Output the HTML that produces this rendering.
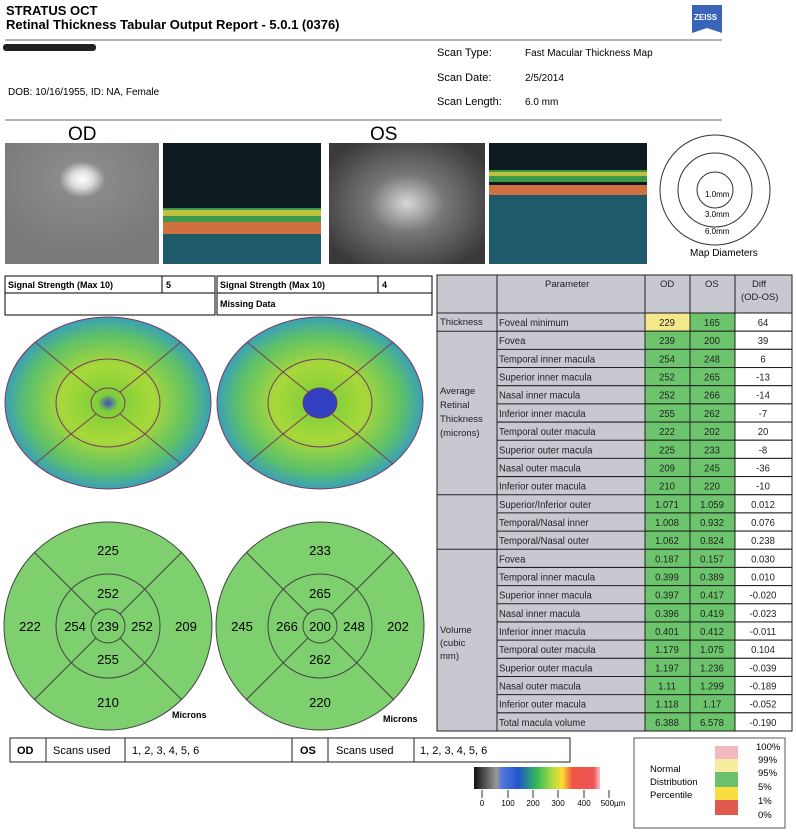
<!DOCTYPE html>
<html><head><meta charset="utf-8"><style>
body{margin:0;background:#fff;}
svg{display:block;font-family:"Liberation Sans",sans-serif;}
</style></head><body>
<svg width="796" height="834" viewBox="0 0 796 834">
<defs>
<radialGradient id="odf" cx="0.5" cy="0.3" r="0.6"><stop offset="0" stop-color="#fff"/><stop offset="0.12" stop-color="#ddd"/><stop offset="0.25" stop-color="#8a8a8a"/><stop offset="1" stop-color="#7a7a7a"/></radialGradient>
<radialGradient id="osf" cx="0.5" cy="0.5" r="0.6"><stop offset="0" stop-color="#d8d8d8"/><stop offset="0.4" stop-color="#777"/><stop offset="1" stop-color="#3a3a3a"/></radialGradient>
<radialGradient id="m1" cx="0.5" cy="0.5" r="0.5"><stop offset="0" stop-color="#3a4fc0"/><stop offset="0.1" stop-color="#7fcf3a"/><stop offset="0.45" stop-color="#a8d83a"/><stop offset="0.8" stop-color="#5cc06a"/><stop offset="1" stop-color="#3aa0b8"/></radialGradient>
<linearGradient id="cb" x1="0" x2="1"><stop offset="0" stop-color="#111"/><stop offset="0.18" stop-color="#999"/><stop offset="0.22" stop-color="#5577dd"/><stop offset="0.35" stop-color="#2255cc"/><stop offset="0.5" stop-color="#33bb55"/><stop offset="0.62" stop-color="#aadd44"/><stop offset="0.7" stop-color="#ffdd33"/><stop offset="0.78" stop-color="#ee5544"/><stop offset="0.95" stop-color="#ee5555"/><stop offset="1" stop-color="#f8c0c0"/></linearGradient>
</defs>
<text x="6" y="15" font-size="13" font-weight="bold">STRATUS OCT</text>
<text x="6" y="29" font-size="13" font-weight="bold">Retinal Thickness Tabular Output Report - 5.0.1 (0376)</text>
<path d="M692 5h30v28l-15-5-15 5z" fill="#3a64b8"/><text x="694" y="20" font-size="8" fill="#fff" font-weight="bold">ZEISS</text>
<line x1="5" y1="40" x2="722" y2="40" stroke="#666"/>
<rect x="3" y="44" width="93" height="7" rx="3" fill="#222"/>
<text x="437" y="56" font-size="11">Scan Type:</text><text x="525" y="56" font-size="10">Fast Macular Thickness Map</text>
<text x="437" y="81" font-size="11">Scan Date:</text><text x="525" y="81" font-size="10">2/5/2014</text>
<text x="437" y="105" font-size="11">Scan Length:</text><text x="525" y="105" font-size="10">6.0 mm</text>
<text x="8" y="95" font-size="10">DOB: 10/16/1955, ID: NA, Female</text>
<line x1="5" y1="120" x2="722" y2="120" stroke="#666"/>
<text x="68" y="140" font-size="19">OD</text><text x="370" y="140" font-size="19">OS</text>
<rect x="5" y="143" width="154" height="121" fill="url(#odf)"/>
<rect x="163" y="143" width="158" height="121" fill="#0d1a20"/>
<rect x="163" y="208" width="158" height="14" fill="#3b9a4a"/><rect x="163" y="210" width="158" height="6" fill="#c0c040"/>
<rect x="163" y="222" width="158" height="12" fill="#d07040"/><rect x="163" y="234" width="158" height="30" fill="#1e5a6a"/>
<rect x="329" y="143" width="156" height="121" fill="url(#osf)"/>
<rect x="489" y="143" width="158" height="121" fill="#0d1a20"/>
<rect x="489" y="170" width="158" height="12" fill="#3b9a4a"/><rect x="489" y="172" width="158" height="4" fill="#c0c040"/>
<rect x="489" y="185" width="158" height="10" fill="#d07040"/><rect x="489" y="195" width="158" height="69" fill="#1e5a6a"/>
<g fill="none" stroke="#333"><circle cx="715" cy="190" r="55"/><circle cx="715" cy="190" r="37"/><circle cx="715" cy="190" r="18"/></g>
<text x="705" y="197" font-size="8">1.0mm</text><text x="705" y="217" font-size="8">3.0mm</text><text x="705" y="234" font-size="8">6.0mm</text>
<text x="690" y="256" font-size="10">Map Diameters</text>
<g stroke="#000" fill="none">
<rect x="5" y="276" width="157" height="17"/><rect x="162" y="276" width="53" height="17"/><rect x="5" y="293" width="210" height="22"/>
<rect x="217" y="276" width="161" height="17"/><rect x="378" y="276" width="54" height="17"/><rect x="217" y="293" width="215" height="22"/></g>
<g font-size="9" font-weight="bold"><text x="8" y="288">Signal Strength (Max 10)</text><text x="166" y="288">5</text>
<text x="220" y="288">Signal Strength (Max 10)</text><text x="382" y="288">4</text><text x="220" y="307">Missing Data</text></g>
<g stroke="#7a3a5a">
<ellipse cx="108" cy="403" rx="103" ry="86" fill="url(#m1)"/>
<ellipse cx="320" cy="403" rx="103" ry="86" fill="url(#m1)"/>
</g>
<g fill="none" stroke="#7a3a5a">
<ellipse cx="108" cy="403" rx="52" ry="44"/><ellipse cx="108" cy="403" rx="17" ry="15"/>
<ellipse cx="320" cy="403" rx="52" ry="44"/><ellipse cx="320" cy="403" rx="17" ry="15" fill="#3040c0"/>
<path d="M96 392L71 372M120 392L145 372M96 414L71 434M120 414L145 434M308 392L283 372M332 392L357 372M308 414L283 434M332 414L357 434"/>
<path d="M71 372L35 342M145 372L181 342M71 434L35 464M145 434L181 464M283 372L247 342M357 372L393 342M283 434L247 464M357 434L393 464"/>
</g>
<g stroke="#444" fill="#7ecf6e">
<circle cx="108" cy="626" r="104"/><circle cx="320" cy="626" r="104"/></g>
<g stroke="#444" fill="none">
<circle cx="108" cy="626" r="52"/><circle cx="108" cy="626" r="17"/><circle cx="320" cy="626" r="52"/><circle cx="320" cy="626" r="17"/>
<path d="M96 614L71 589M120 614L145 589M96 638L71 663M120 638L145 663M71 589L34 552M145 589L182 552M71 663L34 700M145 663L182 700"/>
<path d="M308 614L283 589M332 614L357 589M308 638L283 663M332 638L357 663M283 589L246 552M357 589L394 552M283 663L246 700M357 663L394 700"/>
</g>
<g font-size="13" text-anchor="middle">
<text x="108" y="555">225</text><text x="108" y="598">252</text><text x="75" y="631">254</text><text x="108" y="631">239</text><text x="142" y="631">252</text><text x="108" y="664">255</text><text x="30" y="631">222</text><text x="186" y="631">209</text><text x="108" y="707">210</text>
<text x="320" y="555">233</text><text x="320" y="598">265</text><text x="287" y="631">266</text><text x="320" y="631">200</text><text x="354" y="631">248</text><text x="320" y="664">262</text><text x="242" y="631">245</text><text x="398" y="631">202</text><text x="320" y="707">220</text>
</g>
<text x="172" y="718" font-size="9" font-weight="bold">Microns</text><text x="383" y="722" font-size="9" font-weight="bold">Microns</text>
<rect x="437" y="275" width="355" height="456" fill="#c8c8d0" stroke="#222"/>
<g transform="translate(0,313) scale(1,1.04448) translate(0,-313)">
<g font-size="9.5" fill="#222">
<g transform="translate(0,313)"><rect x="645" width="45" height="17.4" fill="#f4e98a" stroke="#222"/><rect x="690" width="45" height="17.4" fill="#6cc56c" stroke="#222"/><rect x="735" width="57" height="17.4" fill="#fff" stroke="#222"/><line x1="497" y1="17.4" x2="645" y2="17.4" stroke="#222"/><text x="499" y="12.5">Foveal minimum</text><text x="667" y="12.5" text-anchor="middle">229</text><text x="712" y="12.5" text-anchor="middle">165</text><text x="763" y="12.5" text-anchor="middle">64</text></g>
<g transform="translate(0,330.4)"><rect x="645" width="45" height="17.4" fill="#6cc56c" stroke="#222"/><rect x="690" width="45" height="17.4" fill="#6cc56c" stroke="#222"/><rect x="735" width="57" height="17.4" fill="#fff" stroke="#222"/><line x1="497" y1="17.4" x2="645" y2="17.4" stroke="#222"/><text x="499" y="12.5">Fovea</text><text x="667" y="12.5" text-anchor="middle">239</text><text x="712" y="12.5" text-anchor="middle">200</text><text x="763" y="12.5" text-anchor="middle">39</text></g>
<g transform="translate(0,347.8)"><rect x="645" width="45" height="17.4" fill="#6cc56c" stroke="#222"/><rect x="690" width="45" height="17.4" fill="#6cc56c" stroke="#222"/><rect x="735" width="57" height="17.4" fill="#fff" stroke="#222"/><line x1="497" y1="17.4" x2="645" y2="17.4" stroke="#222"/><text x="499" y="12.5">Temporal inner macula</text><text x="667" y="12.5" text-anchor="middle">254</text><text x="712" y="12.5" text-anchor="middle">248</text><text x="763" y="12.5" text-anchor="middle">6</text></g>
<g transform="translate(0,365.2)"><rect x="645" width="45" height="17.4" fill="#6cc56c" stroke="#222"/><rect x="690" width="45" height="17.4" fill="#6cc56c" stroke="#222"/><rect x="735" width="57" height="17.4" fill="#fff" stroke="#222"/><line x1="497" y1="17.4" x2="645" y2="17.4" stroke="#222"/><text x="499" y="12.5">Superior inner macula</text><text x="667" y="12.5" text-anchor="middle">252</text><text x="712" y="12.5" text-anchor="middle">265</text><text x="763" y="12.5" text-anchor="middle">-13</text></g>
<g transform="translate(0,382.6)"><rect x="645" width="45" height="17.4" fill="#6cc56c" stroke="#222"/><rect x="690" width="45" height="17.4" fill="#6cc56c" stroke="#222"/><rect x="735" width="57" height="17.4" fill="#fff" stroke="#222"/><line x1="497" y1="17.4" x2="645" y2="17.4" stroke="#222"/><text x="499" y="12.5">Nasal inner macula</text><text x="667" y="12.5" text-anchor="middle">252</text><text x="712" y="12.5" text-anchor="middle">266</text><text x="763" y="12.5" text-anchor="middle">-14</text></g>
<g transform="translate(0,400)"><rect x="645" width="45" height="17.4" fill="#6cc56c" stroke="#222"/><rect x="690" width="45" height="17.4" fill="#6cc56c" stroke="#222"/><rect x="735" width="57" height="17.4" fill="#fff" stroke="#222"/><line x1="497" y1="17.4" x2="645" y2="17.4" stroke="#222"/><text x="499" y="12.5">Inferior inner macula</text><text x="667" y="12.5" text-anchor="middle">255</text><text x="712" y="12.5" text-anchor="middle">262</text><text x="763" y="12.5" text-anchor="middle">-7</text></g>
<g transform="translate(0,417.4)"><rect x="645" width="45" height="17.4" fill="#6cc56c" stroke="#222"/><rect x="690" width="45" height="17.4" fill="#6cc56c" stroke="#222"/><rect x="735" width="57" height="17.4" fill="#fff" stroke="#222"/><line x1="497" y1="17.4" x2="645" y2="17.4" stroke="#222"/><text x="499" y="12.5">Temporal outer macula</text><text x="667" y="12.5" text-anchor="middle">222</text><text x="712" y="12.5" text-anchor="middle">202</text><text x="763" y="12.5" text-anchor="middle">20</text></g>
<g transform="translate(0,434.8)"><rect x="645" width="45" height="17.4" fill="#6cc56c" stroke="#222"/><rect x="690" width="45" height="17.4" fill="#6cc56c" stroke="#222"/><rect x="735" width="57" height="17.4" fill="#fff" stroke="#222"/><line x1="497" y1="17.4" x2="645" y2="17.4" stroke="#222"/><text x="499" y="12.5">Superior outer macula</text><text x="667" y="12.5" text-anchor="middle">225</text><text x="712" y="12.5" text-anchor="middle">233</text><text x="763" y="12.5" text-anchor="middle">-8</text></g>
<g transform="translate(0,452.2)"><rect x="645" width="45" height="17.4" fill="#6cc56c" stroke="#222"/><rect x="690" width="45" height="17.4" fill="#6cc56c" stroke="#222"/><rect x="735" width="57" height="17.4" fill="#fff" stroke="#222"/><line x1="497" y1="17.4" x2="645" y2="17.4" stroke="#222"/><text x="499" y="12.5">Nasal outer macula</text><text x="667" y="12.5" text-anchor="middle">209</text><text x="712" y="12.5" text-anchor="middle">245</text><text x="763" y="12.5" text-anchor="middle">-36</text></g>
<g transform="translate(0,469.6)"><rect x="645" width="45" height="17.4" fill="#6cc56c" stroke="#222"/><rect x="690" width="45" height="17.4" fill="#6cc56c" stroke="#222"/><rect x="735" width="57" height="17.4" fill="#fff" stroke="#222"/><line x1="497" y1="17.4" x2="645" y2="17.4" stroke="#222"/><text x="499" y="12.5">Inferior outer macula</text><text x="667" y="12.5" text-anchor="middle">210</text><text x="712" y="12.5" text-anchor="middle">220</text><text x="763" y="12.5" text-anchor="middle">-10</text></g>
<g transform="translate(0,487)"><rect x="645" width="45" height="17.4" fill="#6cc56c" stroke="#222"/><rect x="690" width="45" height="17.4" fill="#6cc56c" stroke="#222"/><rect x="735" width="57" height="17.4" fill="#fff" stroke="#222"/><line x1="497" y1="17.4" x2="645" y2="17.4" stroke="#222"/><text x="499" y="12.5">Superior/Inferior outer</text><text x="667" y="12.5" text-anchor="middle">1.071</text><text x="712" y="12.5" text-anchor="middle">1.059</text><text x="763" y="12.5" text-anchor="middle">0.012</text></g>
<g transform="translate(0,504.4)"><rect x="645" width="45" height="17.4" fill="#6cc56c" stroke="#222"/><rect x="690" width="45" height="17.4" fill="#6cc56c" stroke="#222"/><rect x="735" width="57" height="17.4" fill="#fff" stroke="#222"/><line x1="497" y1="17.4" x2="645" y2="17.4" stroke="#222"/><text x="499" y="12.5">Temporal/Nasal inner</text><text x="667" y="12.5" text-anchor="middle">1.008</text><text x="712" y="12.5" text-anchor="middle">0.932</text><text x="763" y="12.5" text-anchor="middle">0.076</text></g>
<g transform="translate(0,521.8)"><rect x="645" width="45" height="17.4" fill="#6cc56c" stroke="#222"/><rect x="690" width="45" height="17.4" fill="#6cc56c" stroke="#222"/><rect x="735" width="57" height="17.4" fill="#fff" stroke="#222"/><line x1="497" y1="17.4" x2="645" y2="17.4" stroke="#222"/><text x="499" y="12.5">Temporal/Nasal outer</text><text x="667" y="12.5" text-anchor="middle">1.062</text><text x="712" y="12.5" text-anchor="middle">0.824</text><text x="763" y="12.5" text-anchor="middle">0.238</text></g>
<g transform="translate(0,539.2)"><rect x="645" width="45" height="17.4" fill="#6cc56c" stroke="#222"/><rect x="690" width="45" height="17.4" fill="#6cc56c" stroke="#222"/><rect x="735" width="57" height="17.4" fill="#fff" stroke="#222"/><line x1="497" y1="17.4" x2="645" y2="17.4" stroke="#222"/><text x="499" y="12.5">Fovea</text><text x="667" y="12.5" text-anchor="middle">0.187</text><text x="712" y="12.5" text-anchor="middle">0.157</text><text x="763" y="12.5" text-anchor="middle">0.030</text></g>
<g transform="translate(0,556.6)"><rect x="645" width="45" height="17.4" fill="#6cc56c" stroke="#222"/><rect x="690" width="45" height="17.4" fill="#6cc56c" stroke="#222"/><rect x="735" width="57" height="17.4" fill="#fff" stroke="#222"/><line x1="497" y1="17.4" x2="645" y2="17.4" stroke="#222"/><text x="499" y="12.5">Temporal inner macula</text><text x="667" y="12.5" text-anchor="middle">0.399</text><text x="712" y="12.5" text-anchor="middle">0.389</text><text x="763" y="12.5" text-anchor="middle">0.010</text></g>
<g transform="translate(0,574)"><rect x="645" width="45" height="17.4" fill="#6cc56c" stroke="#222"/><rect x="690" width="45" height="17.4" fill="#6cc56c" stroke="#222"/><rect x="735" width="57" height="17.4" fill="#fff" stroke="#222"/><line x1="497" y1="17.4" x2="645" y2="17.4" stroke="#222"/><text x="499" y="12.5">Superior inner macula</text><text x="667" y="12.5" text-anchor="middle">0.397</text><text x="712" y="12.5" text-anchor="middle">0.417</text><text x="763" y="12.5" text-anchor="middle">-0.020</text></g>
<g transform="translate(0,591.4)"><rect x="645" width="45" height="17.4" fill="#6cc56c" stroke="#222"/><rect x="690" width="45" height="17.4" fill="#6cc56c" stroke="#222"/><rect x="735" width="57" height="17.4" fill="#fff" stroke="#222"/><line x1="497" y1="17.4" x2="645" y2="17.4" stroke="#222"/><text x="499" y="12.5">Nasal inner macula</text><text x="667" y="12.5" text-anchor="middle">0.396</text><text x="712" y="12.5" text-anchor="middle">0.419</text><text x="763" y="12.5" text-anchor="middle">-0.023</text></g>
<g transform="translate(0,608.8)"><rect x="645" width="45" height="17.4" fill="#6cc56c" stroke="#222"/><rect x="690" width="45" height="17.4" fill="#6cc56c" stroke="#222"/><rect x="735" width="57" height="17.4" fill="#fff" stroke="#222"/><line x1="497" y1="17.4" x2="645" y2="17.4" stroke="#222"/><text x="499" y="12.5">Inferior inner macula</text><text x="667" y="12.5" text-anchor="middle">0.401</text><text x="712" y="12.5" text-anchor="middle">0.412</text><text x="763" y="12.5" text-anchor="middle">-0.011</text></g>
<g transform="translate(0,626.2)"><rect x="645" width="45" height="17.4" fill="#6cc56c" stroke="#222"/><rect x="690" width="45" height="17.4" fill="#6cc56c" stroke="#222"/><rect x="735" width="57" height="17.4" fill="#fff" stroke="#222"/><line x1="497" y1="17.4" x2="645" y2="17.4" stroke="#222"/><text x="499" y="12.5">Temporal outer macula</text><text x="667" y="12.5" text-anchor="middle">1.179</text><text x="712" y="12.5" text-anchor="middle">1.075</text><text x="763" y="12.5" text-anchor="middle">0.104</text></g>
<g transform="translate(0,643.6)"><rect x="645" width="45" height="17.4" fill="#6cc56c" stroke="#222"/><rect x="690" width="45" height="17.4" fill="#6cc56c" stroke="#222"/><rect x="735" width="57" height="17.4" fill="#fff" stroke="#222"/><line x1="497" y1="17.4" x2="645" y2="17.4" stroke="#222"/><text x="499" y="12.5">Superior outer macula</text><text x="667" y="12.5" text-anchor="middle">1.197</text><text x="712" y="12.5" text-anchor="middle">1.236</text><text x="763" y="12.5" text-anchor="middle">-0.039</text></g>
<g transform="translate(0,661)"><rect x="645" width="45" height="17.4" fill="#6cc56c" stroke="#222"/><rect x="690" width="45" height="17.4" fill="#6cc56c" stroke="#222"/><rect x="735" width="57" height="17.4" fill="#fff" stroke="#222"/><line x1="497" y1="17.4" x2="645" y2="17.4" stroke="#222"/><text x="499" y="12.5">Nasal outer macula</text><text x="667" y="12.5" text-anchor="middle">1.11</text><text x="712" y="12.5" text-anchor="middle">1.299</text><text x="763" y="12.5" text-anchor="middle">-0.189</text></g>
<g transform="translate(0,678.4)"><rect x="645" width="45" height="17.4" fill="#6cc56c" stroke="#222"/><rect x="690" width="45" height="17.4" fill="#6cc56c" stroke="#222"/><rect x="735" width="57" height="17.4" fill="#fff" stroke="#222"/><line x1="497" y1="17.4" x2="645" y2="17.4" stroke="#222"/><text x="499" y="12.5">Inferior outer macula</text><text x="667" y="12.5" text-anchor="middle">1.118</text><text x="712" y="12.5" text-anchor="middle">1.17</text><text x="763" y="12.5" text-anchor="middle">-0.052</text></g>
<g transform="translate(0,695.8)"><rect x="645" width="45" height="17.4" fill="#6cc56c" stroke="#222"/><rect x="690" width="45" height="17.4" fill="#6cc56c" stroke="#222"/><rect x="735" width="57" height="17.4" fill="#fff" stroke="#222"/><text x="499" y="12.5">Total macula volume</text><text x="667" y="12.5" text-anchor="middle">6.388</text><text x="712" y="12.5" text-anchor="middle">6.578</text><text x="763" y="12.5" text-anchor="middle">-0.190</text></g>
</g>
</g>
<g stroke="#222" fill="none">
<line x1="497" y1="275" x2="497" y2="731"/><line x1="645" y1="275" x2="645" y2="731"/><line x1="690" y1="275" x2="690" y2="731"/><line x1="735" y1="275" x2="735" y2="731"/>
<line x1="437" y1="313" x2="792" y2="313"/><line x1="437" y1="331.2" x2="497" y2="331.2"/><line x1="437" y1="494.7" x2="497" y2="494.7"/><line x1="437" y1="549.2" x2="497" y2="549.2"/>
<rect x="437" y="275" width="355" height="456"/>
</g>
<g font-size="9.5" fill="#222">
<text x="545" y="287">Parameter</text><text x="660" y="287">OD</text><text x="705" y="287">OS</text><text x="752" y="287">Diff</text><text x="741" y="300">(OD-OS)</text>
<text x="440" y="325">Thickness</text>
<text x="440" y="394">Average</text><text x="440" y="408">Retinal</text><text x="440" y="422">Thickness</text><text x="440" y="436">(microns)</text>
<text x="440" y="633">Volume</text><text x="440" y="646">(cubic</text><text x="440" y="659">mm)</text>
</g>
<g stroke="#222" fill="none"><rect x="10" y="738" width="560" height="24"/><line x1="46" y1="738" x2="46" y2="762"/><line x1="125" y1="738" x2="125" y2="762"/><line x1="292" y1="738" x2="292" y2="762"/><line x1="328" y1="738" x2="328" y2="762"/><line x1="414" y1="738" x2="414" y2="762"/></g>
<g font-size="11"><text x="17" y="754" font-weight="bold">OD</text><text x="53" y="754">Scans used</text><text x="132" y="754">1, 2, 3, 4, 5, 6</text>
<text x="300" y="754" font-weight="bold">OS</text><text x="336" y="754">Scans used</text><text x="420" y="754">1, 2, 3, 4, 5, 6</text></g>
<rect x="474" y="767" width="126" height="22" fill="url(#cb)"/>
<g stroke="#333"><path d="M482 790v8M508 790v8M533 790v8M558 790v8M584 790v8M609 790v8"/></g>
<g font-size="8" text-anchor="middle"><text x="482" y="806">0</text><text x="508" y="806">100</text><text x="533" y="806">200</text><text x="558" y="806">300</text><text x="584" y="806">400</text><text x="613" y="806">500µm</text></g>
<rect x="634" y="738" width="151" height="90" fill="#fff" stroke="#555"/>
<text x="650" y="772" font-size="9.5">Normal</text><text x="650" y="785" font-size="9.5">Distribution</text><text x="650" y="798" font-size="9.5">Percentile</text>
<rect x="715" y="746" width="23" height="13" fill="#f4b8c0"/><rect x="715" y="759" width="23" height="13" fill="#f8eca0"/><rect x="715" y="772" width="23" height="15" fill="#6cc06c"/><rect x="715" y="787" width="23" height="13" fill="#f8de40"/><rect x="715" y="800" width="23" height="15" fill="#e05a50"/>
<g font-size="9.5"><text x="756" y="750">100%</text><text x="758" y="763">99%</text><text x="758" y="776">95%</text><text x="758" y="790">5%</text><text x="758" y="804">1%</text><text x="758" y="818">0%</text></g>
</svg>
</body></html>
